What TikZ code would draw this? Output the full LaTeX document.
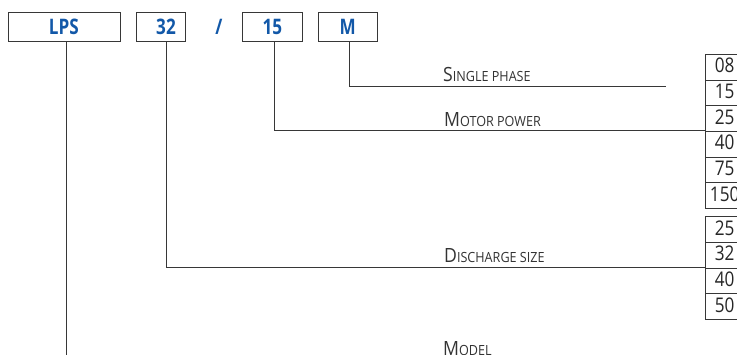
\documentclass[tikz,border=0pt]{standalone}
\usepackage{fontspec}
\setmainfont{Open Sans}
\newfontfamily\lblfont[FakeStretch=0.9]{Open Sans}
\newfontfamily\numfont[FakeStretch=0.85]{Open Sans}
\newfontfamily\codefont[FakeStretch=0.8]{Open Sans}
\definecolor{codeblue}{RGB}{18,88,168}
\definecolor{linegray}{RGB}{55,55,55}
\newcommand\lblbig[1]{{\fontsize{19.6pt}{20pt}\selectfont #1}}
\newcommand\lblsmall[1]{{\fontsize{14pt}{15pt}\selectfont #1}}
\begin{document}
\begin{tikzpicture}[x=1pt,y=-1pt,
  codebox/.style={draw=linegray,line width=0.9pt,minimum height=29.4pt,inner sep=0pt},
  codetext/.style={text=codeblue,inner sep=0pt,font=\codefont\bfseries\fontsize{21.4pt}{22pt}\selectfont},
  cell/.style={draw=linegray,line width=0.9pt,minimum width=38pt,minimum height=25.67pt,inner sep=0pt,text height=14.4pt,text depth=3.3pt,font=\numfont\fontsize{20.2pt}{21pt}\selectfont,text=black!85},
  lbl/.style={anchor=base west,inner sep=0pt,font=\lblfont,text=black!80},
  conn/.style={draw=linegray,line width=0.9pt}]
\useasboundingbox (0,0) rectangle (737,354);
\clip (0,0) rectangle (737,354);

% code boxes
\node[codebox,minimum width=112pt] (lps) at (64.3,27) {};
\node[codebox,minimum width=48.6pt] (b32) at (161,27) {};
\node[codebox,minimum width=60pt] (b15) at (272.3,27) {};
\node[codebox,minimum width=59.4pt] (bm) at (348,27) {};
\node[codetext] (tlps) at (63.9,27) {LPS};
\node[codetext] (t32) at (166,27) {32};
\node[codetext] (tslash) at (219,27) {/};
\node[codetext] (t15) at (272.3,27) {15};
\node[codetext] (tm) at (347.7,27) {M};

% table of motor powers
\foreach \v [count=\i] in {08,15,25,40,75,150}
  \node[cell] (p\i) at (724.7,{54.3+25.67*(\i-0.5)}) {\v};
% table of discharge sizes
\foreach \v [count=\i] in {25,32,40,50}
  \node[cell] (d\i) at (724.7,{216.7+25.67*(\i-0.5)}) {\v};

% connector end points
\coordinate (mend) at (666,86.7);
\coordinate (modelend) at (66.3,360);

% connectors
\draw[conn] ([xshift=1pt]bm.south) |- (mend);
\draw[conn] ([xshift=2.4pt]b15.south) |- (p4.north west);
\draw[conn] ([xshift=5.7pt]b32.south) |- (d3.north west);
\draw[conn] ([xshift=2pt]lps.south) -- (modelend);

% labels
\node[lbl] (lsingle) at (443,81) {\lblbig{S}\lblsmall{INGLE PHASE}};
\node[lbl] (lmotor) at (444,126.7) {\lblbig{M}\lblsmall{OTOR POWER}};
\node[lbl] (ldis) at (444,262.7) {\lblbig{D}\lblsmall{ISCHARGE SIZE}};
\node[lbl] (lmodel) at (443,355.5) {\lblbig{M}\lblsmall{ODEL}};
\end{tikzpicture}
\end{document}
